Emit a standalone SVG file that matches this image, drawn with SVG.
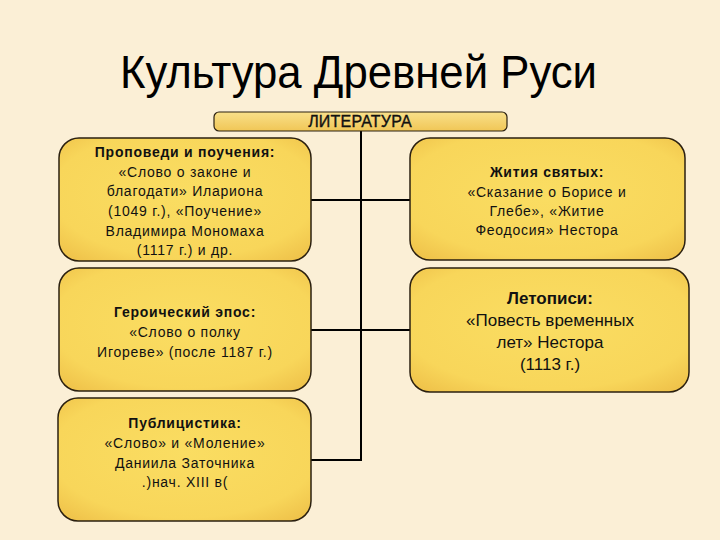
<svg xmlns="http://www.w3.org/2000/svg" width="720" height="540" viewBox="0 0 720 540">
  <defs>
    <radialGradient id="boxFill" cx="50%" cy="45%" r="70%">
      <stop offset="0%" stop-color="#FADD62"/>
      <stop offset="75%" stop-color="#F8D65A"/>
      <stop offset="100%" stop-color="#EFC24A"/>
    </radialGradient>
    <linearGradient id="headFill" x1="0" y1="0" x2="0" y2="1">
      <stop offset="0%" stop-color="#F9E08A"/>
      <stop offset="100%" stop-color="#F0C656"/>
    </linearGradient>
    <style>
      .box { fill: url(#boxFill); stroke: #2b2010; stroke-width: 1.5; }
      .head { fill: url(#headFill); stroke: #2b2010; stroke-width: 1.2; }
      .conn { stroke: #000; stroke-width: 2; fill: none; }
      .t { font-family: "Liberation Sans", Arial, sans-serif; font-size: 14px; fill: #111; text-anchor: middle; letter-spacing: 0.75px; }
      .b { font-weight: bold; }
      .big { font-size: 17px; letter-spacing: 0; }
      .title { font-family: "Liberation Sans", Arial, sans-serif; font-size: 46px; fill: #000; }
    </style>
  </defs>
  <rect x="0" y="0" width="720" height="540" fill="#FBEFD6"/>

  <text class="title" x="120" y="88" textLength="477" lengthAdjust="spacingAndGlyphs">Культура Древней Руси</text>

  <g id="connectors">
    <line class="conn" x1="361" y1="131" x2="361" y2="461"/>
    <line class="conn" x1="311" y1="200" x2="410" y2="200"/>
    <line class="conn" x1="311" y1="330" x2="410" y2="330"/>
    <line class="conn" x1="311" y1="460" x2="362" y2="460"/>
  </g>

  <g id="header">
    <rect class="head" x="214" y="112" width="293" height="19" rx="5"/>
    <text class="t" x="360" y="127" style="font-size:16px;letter-spacing:0.2px;stroke:#111;stroke-width:0.35">ЛИТЕРАТУРА</text>
  </g>

  <g id="node-propovedi">
    <rect class="box" x="59" y="138" width="252" height="123" rx="20"/>
    <text class="t b" x="185" y="157">Проповеди и поучения:</text>
    <text class="t" x="185" y="177">«Слово о законе и</text>
    <text class="t" x="185" y="196">благодати» Илариона</text>
    <text class="t" x="185" y="216">(1049 г.), «Поучение»</text>
    <text class="t" x="185" y="236">Владимира Мономаха</text>
    <text class="t" x="185" y="255">(1117 г.) и др.</text>
  </g>

  <g id="node-zhitiya">
    <rect class="box" x="410" y="138" width="275" height="122" rx="20"/>
    <text class="t b" x="547" y="177">Жития святых:</text>
    <text class="t" x="547" y="197">«Сказание о Борисе и</text>
    <text class="t" x="547" y="216">Глебе», «Житие</text>
    <text class="t" x="547" y="235">Феодосия» Нестора</text>
  </g>

  <g id="node-epos">
    <rect class="box" x="59" y="268" width="252" height="123" rx="20"/>
    <text class="t b" x="185" y="317">Героический эпос:</text>
    <text class="t" x="185" y="337">«Слово о полку</text>
    <text class="t" x="185" y="357">Игореве» (после 1187 г.)</text>
  </g>

  <g id="node-letopisi">
    <rect class="box" x="410" y="268" width="279" height="124" rx="20"/>
    <text class="t b big" x="550" y="304">Летописи:</text>
    <text class="t big" x="550" y="326">«Повесть временных</text>
    <text class="t big" x="550" y="348">лет» Нестора</text>
    <text class="t big" x="550" y="370">(1113 г.)</text>
  </g>

  <g id="node-publicistika">
    <rect class="box" x="58" y="398" width="253" height="123" rx="20"/>
    <text class="t b" x="185" y="428">Публицистика:</text>
    <text class="t" x="185" y="448">«Слово» и «Моление»</text>
    <text class="t" x="185" y="468">Даниила Заточника</text>
    <text class="t" x="185" y="487">.)нач. XIII в(</text>
  </g>
</svg>
